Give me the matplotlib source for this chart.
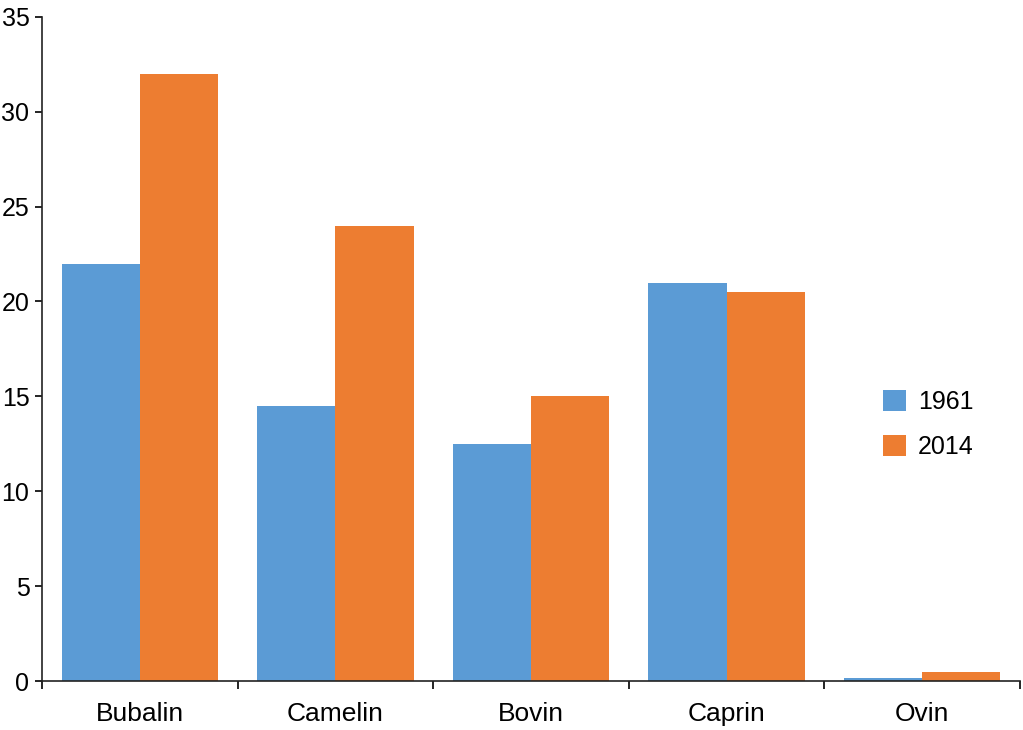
import numpy as np
import matplotlib
matplotlib.use("Agg")
from matplotlib import pyplot as plt
from matplotlib.ticker import FixedLocator

categories = ["Bubalin", "Camelin", "Bovin", "Caprin", "Ovin"]
v1961 = [22.0, 14.5, 12.5, 21.0, 0.17]
v2014 = [32.0, 24.0, 15.0, 20.5, 0.5]
years = ["1961", "2014"]

plt.rcParams['font.family'] = ['Liberation Sans', 'DejaVu Sans']

fig = plt.figure(figsize=(10.23, 7.3), dpi=100)
ax = fig.add_axes([0.041, 0.067, 0.956, 0.91])

x = np.arange(len(categories))
w = 0.4
ax.bar(x - w / 2, v1961, w, color="#5B9BD5", label=years[0])
ax.bar(x + w / 2, v2014, w, color="#ED7D31", label=years[1])

ax.set_xlim(-0.5, len(categories) - 0.5)
ax.set_ylim(0, 35)
ax.set_yticks(range(0, 36, 5))

# labels centred on groups, tick marks between groups
ax.set_xticks(x)
ax.set_xticklabels(categories, fontsize=19)
ax.tick_params(axis='x', which='major', length=0, pad=15)
ax.xaxis.set_minor_locator(FixedLocator(np.arange(-0.5, len(categories), 1.0)))
ax.tick_params(axis='x', which='minor', length=6, width=1.2, direction='out')
ax.tick_params(axis='y', labelsize=18, length=5, width=1.2, pad=4)

for s in ["top", "right"]:
    ax.spines[s].set_visible(False)
for s in ["left", "bottom"]:
    ax.spines[s].set_linewidth(1.2)
    ax.spines[s].set_color("#222222")

ax.legend(loc="center left", bbox_to_anchor=(0.86, 0.386), frameon=False,
          fontsize=18, handlelength=0.9, handleheight=0.9, labelspacing=0.85,
          handletextpad=0.5, borderpad=0, borderaxespad=0)

fig.savefig("out.png", dpi=100)
